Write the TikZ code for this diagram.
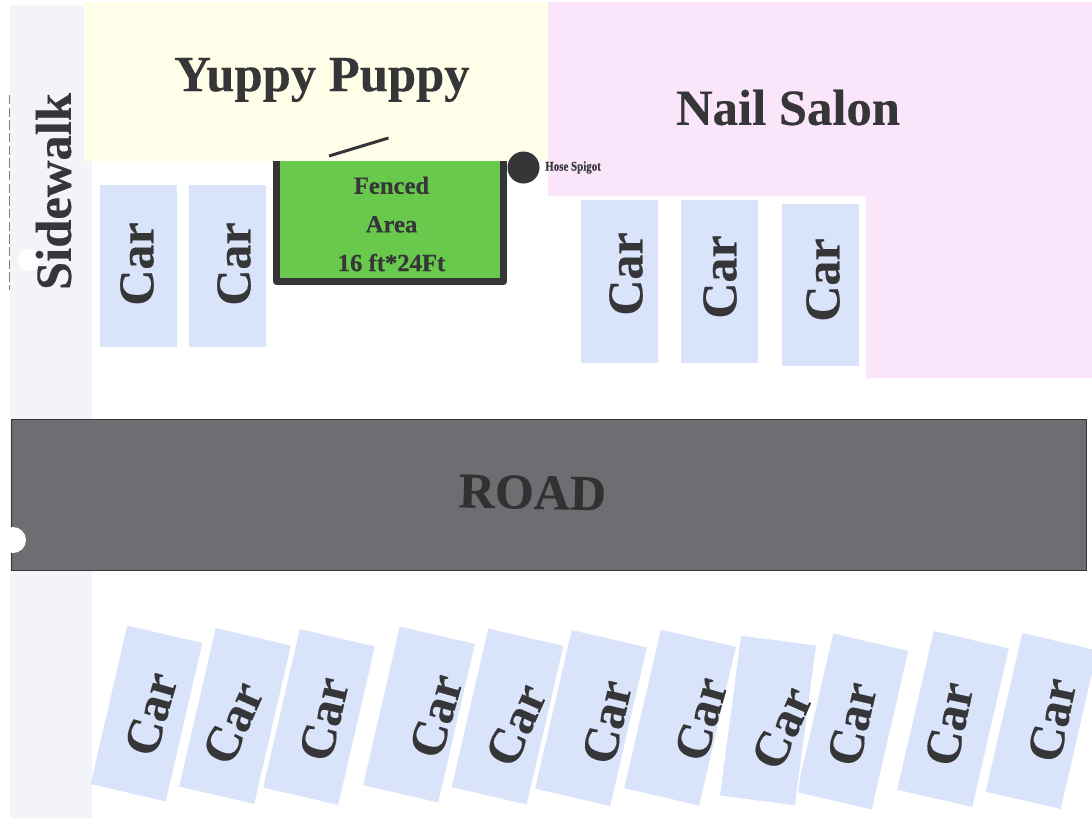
\documentclass[tikz,border=0pt]{standalone}
\usepackage{fontspec}
\setmainfont{Liberation Serif}[BoldFeatures={FakeBold=0.3}]
\definecolor{CarBlue}{HTML}{D9E3FA}
\definecolor{ShopYellow}{HTML}{FFFEE9}
\definecolor{ShopPink}{HTML}{FBE5FB}
\definecolor{WalkGrey}{HTML}{F3F3FA}
\definecolor{RoadGrey}{HTML}{6C6E72}
\definecolor{Ink}{HTML}{363638}
\definecolor{FenceGreen}{HTML}{69C94C}
\tikzset{
    bigtext/.style={text=Ink, font=\fontsize{38}{40}\selectfont\bfseries, inner sep=0pt},
    cartext/.style={text=Ink, font=\fontsize{37.5}{40}\selectfont\bfseries, inner sep=0pt},
    carbox/.style={fill=CarBlue, minimum width=122pt, minimum height=57.75pt, inner sep=0pt}
}
\begin{document}
\begin{tikzpicture}[x=0.75pt, y=-0.75pt]
    \useasboundingbox (0,0) rectangle (1092,818);
    \fill[white] (0,0) rectangle (1092,818);
    % ground
    \fill[WalkGrey] (10,5) -- (85,5) -- (85,161) -- (92,161) -- (92,818) -- (10,818) -- cycle;
    \fill[ShopYellow] (84,2) rectangle (548,161);
    \fill[ShopPink] (548,2) -- (1092,2) -- (1092,378) -- (866,378) -- (866,196) -- (548,196) -- cycle;
    \draw[gray, dash pattern=on 7pt off 2.5pt, line width=0.5pt] (9.5,95) -- (9.5,290);
    \node[circle, fill=white, minimum size=17pt, inner sep=0pt] (holeB) at (29,260) {};
    \node[bigtext] (yuppy) at (322,80) {Yuppy Puppy};
    \node[bigtext] (salon) at (788,107.5) {Nail Salon};
    \node[bigtext, rotate=90] (walk) at (53.5,191.5) {Sidewalk};
    % fenced area
    \fill[FenceGreen] (280,161) rectangle (500,278);
    \draw[Ink, line width=5.25pt, line join=round] (276.5,161) -- (276.5,281.5) -- (503.5,281.5) -- (503.5,161);
    \coordinate (gateA) at (329,156);
    \coordinate (gateB) at (388.5,138);
    \draw[Ink, line width=2.25pt] (gateA) -- (gateB);
    \node[text=Ink, font=\fontsize{18.5}{29}\selectfont\bfseries, align=center, inner sep=0pt] (fence) at (391.5,224)
        {Fenced\\Area\\16 ft*24Ft};
    \node[circle, fill=Ink, minimum size=24pt, inner sep=0pt] (spigot) at (523.5,167.5) {};
    \node[text=Ink, font=\fontsize{10}{11}\selectfont\bfseries, inner sep=0pt, anchor=west] (hose) at (545,167.5)
        {\scalebox{0.82}[1]{Hose Spigot}};
    % parked cars along the shops
    \foreach \name/\x/\y/\tx/\ty in {a/138/266/137/264, b/227/266/234/264, c/619.5/281.5/626/274, d/719.5/281.5/720/277, e/820.5/285/823/280}{
        \node[carbox, rotate=90] (car\name) at (\x,\y) {};
        \node[cartext, rotate=90] (label\name) at (\tx,\ty) {Car};
    }
    % road
    \node[fill=RoadGrey, draw=Ink, line width=0.5pt, minimum width=806pt, minimum height=113pt, inner sep=0pt] (road) at (548.5,495) {};
    \node[text=Ink!90!black, font=\fontsize{37.5}{40}\selectfont\bfseries, inner sep=0pt, rotate=-1.2] (roadtext) at (532.5,492.5) {ROAD};
    % angled cars
    \foreach \name/\x/\y/\tx/\ty/\rot in {f/146.5/713.5/151/714/74, g/235/716/233/723/66, h/319/717/324/719/77,
        i/419/714.5/436/716/74, j/507.5/716.5/516/725/66, k/591/718/607/722/77,
        l/680/717.5/701/719/74, n/852.5/721.5/852/724/77, o/953/719/949/724/78, p/1041.5/721/1052/720/78}{
        \node[carbox, rotate=77] (car\name) at (\x,\y) {};
        \node[cartext, rotate=\rot] (label\name) at (\tx,\ty) {Car};
    }
    \node[carbox, rotate=82.5, draw=white, line width=1pt] (carm) at (768,720.5) {};
    \node[cartext, rotate=66] (labelm) at (782,728) {Car};
    % punched hole
    \node[circle, fill=white, minimum size=19.5pt, inner sep=0pt] (holeA) at (13,540) {};
\end{tikzpicture}
\end{document}
